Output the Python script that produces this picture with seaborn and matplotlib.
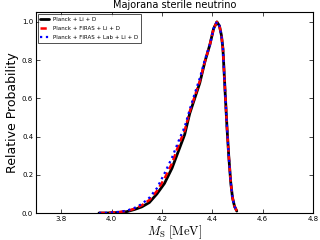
import matplotlib
matplotlib.use("Agg")
import matplotlib.pyplot as plt
import seaborn as sns
import pandas as pd

# --------------------------------------------------------
# Data
# --------------------------------------------------------

mass = [3.95, 3.98, 4.0, 4.03, 4.06, 4.09, 4.12, 4.15, 4.18, 4.21,
        4.24, 4.27, 4.29, 4.31, 4.33, 4.35, 4.37, 4.39, 4.405, 4.418,
        4.428, 4.436, 4.442, 4.447, 4.452, 4.458, 4.465, 4.473, 4.48,
        4.488, 4.497]

planck_li_d = [0.0, 0.0, 0.001, 0.003, 0.007, 0.018, 0.032, 0.055, 0.1, 0.155,
               0.235, 0.34, 0.41, 0.52, 0.6, 0.68, 0.79, 0.88, 0.965, 1.0,
               0.98, 0.93, 0.86, 0.73, 0.6, 0.45, 0.3, 0.16, 0.08,
               0.035, 0.01]

planck_firas_li_d = [0.0, 0.0, 0.002, 0.005, 0.01, 0.022, 0.04, 0.068, 0.115, 0.18,
                     0.26, 0.37, 0.43, 0.53, 0.61, 0.69, 0.79, 0.88, 0.965, 1.0,
                     0.98, 0.93, 0.86, 0.73, 0.6, 0.45, 0.3, 0.16, 0.08,
                     0.035, 0.01]

planck_firas_lab_li_d = [0.0, 0.001, 0.003, 0.006, 0.012, 0.026, 0.047, 0.08, 0.13, 0.207,
                         0.29, 0.39, 0.45, 0.54, 0.625, 0.705, 0.8, 0.88, 0.965, 1.0,
                         0.98, 0.93, 0.86, 0.73, 0.6, 0.45, 0.3, 0.16, 0.08,
                         0.035, 0.01]

labels = ["Planck + Li + D", "Planck + FIRAS + Li + D",
          "Planck + FIRAS + Lab + Li + D"]

# --------------------------------------------------------
# Style
# --------------------------------------------------------

sns.set_style("ticks", {"xtick.direction": "in", "ytick.direction": "in",
                        "axes.edgecolor": "black", "text.color": "black",
                        "xtick.color": "black", "ytick.color": "black",
                        "axes.labelcolor": "black"})
plt.rcParams["font.family"] = ["DejaVu Sans"]
plt.rcParams["mathtext.fontset"] = "cm"

fig = plt.figure(figsize=(3.2, 2.4), dpi=100)
ax = fig.add_axes([0.1125, 0.1125, 0.866, 0.836])

df = pd.DataFrame({
    "mass": mass,
    labels[0]: planck_li_d,
    labels[1]: planck_firas_li_d,
    labels[2]: planck_firas_lab_li_d,
})

sns.lineplot(data=df, x="mass", y=labels[0], ax=ax, color="black",
             linewidth=2, label=labels[0])
sns.lineplot(data=df, x="mass", y=labels[1], ax=ax, color="red",
             linewidth=1.8, linestyle=(0, (2.5, 1.5)), label=labels[1])
sns.lineplot(data=df, x="mass", y=labels[2], ax=ax, color="blue",
             linewidth=1.6, linestyle=":", label=labels[2])

ax.set_xlim(3.7, 4.8)
ax.set_ylim(0, 1.05)
ax.set_xticks([3.8, 4.0, 4.2, 4.4, 4.6, 4.8])
ax.set_yticks([0.0, 0.2, 0.4, 0.6, 0.8, 1.0])
ax.tick_params(top=True, right=True, labelsize=5, length=3, width=0.5, pad=2)
for spine in ax.spines.values():
    spine.set_linewidth(0.8)

ax.set_title("Majorana sterile neutrino", fontsize=7, pad=3)
ax.set_xlabel(r"$M_{\rm S}\ [{\rm MeV}]$", fontsize=9, labelpad=1)
ax.set_ylabel("Relative Probability", fontsize=9, labelpad=2)

leg = ax.legend(loc="upper left", fontsize=4, handlelength=1.6,
                handletextpad=0.6, frameon=True, fancybox=False,
                borderpad=0.5, labelspacing=0.75, borderaxespad=0.3)
leg.get_frame().set_edgecolor("black")
leg.get_frame().set_linewidth(0.6)

fig.savefig("out.png", dpi=100)
plt.close(fig)
